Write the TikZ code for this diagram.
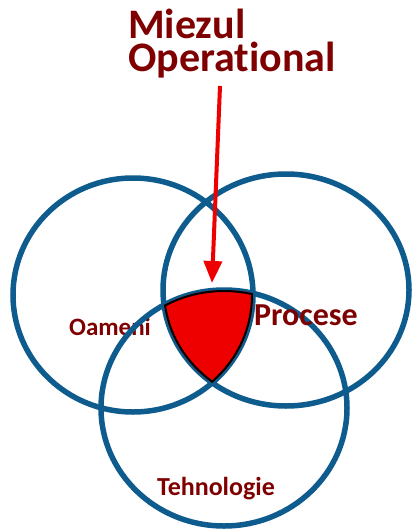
\documentclass[tikz,border=0pt]{standalone}
\usepackage{fontspec}
\setmainfont{Carlito}[Ligatures={NoCommon,NoContextual}]
\usetikzlibrary{positioning,arrows.meta,shapes.geometric}
\definecolor{mzalbastru}{HTML}{0E5C8E}
\definecolor{mzvisiniu}{HTML}{7F0000}
\definecolor{mzrosu}{HTML}{EE0000}
\tikzset{
  mzcerc/.style={draw=mzalbastru, line width=5.5pt, ellipse, inner sep=0pt},
  mzeticheta/.style={text=mzvisiniu, font=\bfseries, anchor=base, inner sep=0pt},
  mzsageata/.style={-{Triangle[length=22pt, width=18pt]}, line width=4pt, draw=mzrosu},
}
\begin{document}
\begin{tikzpicture}[x=1pt, y=-1pt,
            titlu/.style={mzeticheta, font=\bfseries\fontsize{42}{33}\selectfont, anchor=base west},
            contur/.style={draw=black, line width=4pt}
        ]
            \useasboundingbox (0,0) rectangle (414,532);
            % eticheta de sub cercuri
            \node[mzeticheta, font=\bfseries\fontsize{25}{30}\selectfont] (toameni) at (110,335) {Oameni};
            % cele trei cercuri
            \node[mzcerc, minimum width=240pt, minimum height=234pt] (oameni) at (133,295) {};
            \node[mzcerc, minimum width=246pt, minimum height=232pt] (procese) at (286,290) {};
            \node[mzcerc, minimum width=246pt, minimum height=236pt] (tehnologie) at (224,408) {};
            % zona comuna
            \begin{scope}
                \clip (133,295) ellipse [x radius=120, y radius=117];
                \clip (286,290) ellipse [x radius=123, y radius=116];
                \clip (224,408) ellipse [x radius=123, y radius=118];
                \fill[mzrosu] (0,0) rectangle (414,532);
                \draw[contur] (133,295) ellipse [x radius=120, y radius=117];
                \draw[contur] (286,290) ellipse [x radius=123, y radius=116];
                \draw[contur] (224,408) ellipse [x radius=123, y radius=118];
            \end{scope}
            \node[mzeticheta, font=\bfseries\fontsize{32}{36}\selectfont] (tprocese) at (306,325) {Procese};
            \node[mzeticheta, font=\bfseries\fontsize{26}{30}\selectfont] (ttehnologie) at (216,495) {Tehnologie};
            \node[titlu] (miezul) at (128,39) {Miezul};
            \node[titlu] (operational) at (128,72) {Operational};
            \coordinate (start) at (220,86);
            \coordinate (varf) at (212,283);
            \draw[mzsageata] (start) -- (varf);
        \end{tikzpicture}
\end{document}
